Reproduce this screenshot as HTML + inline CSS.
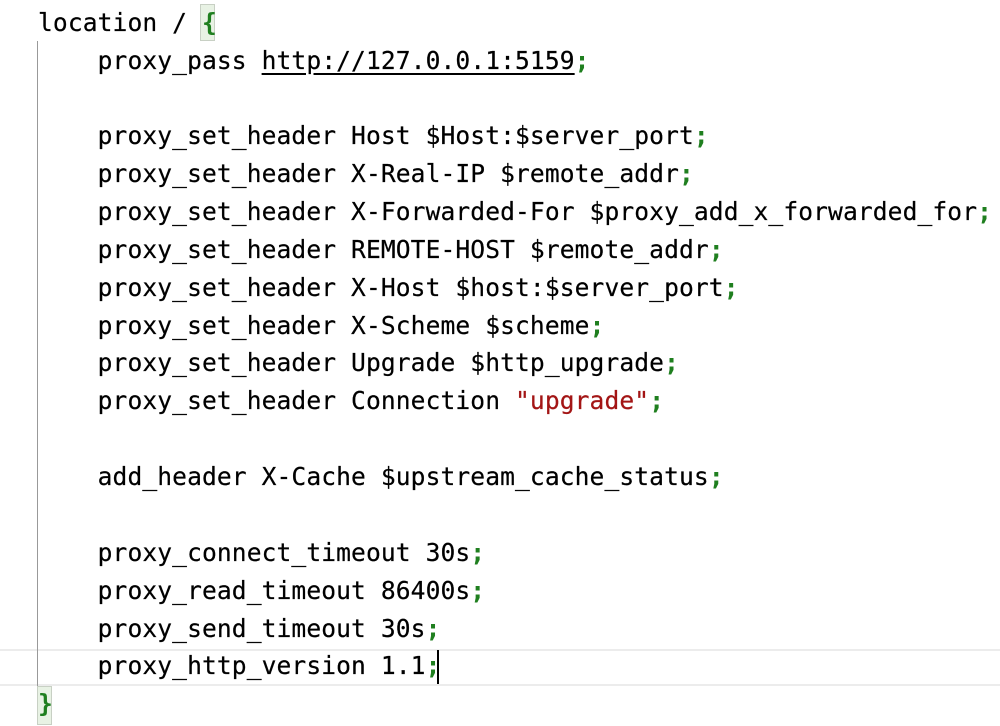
<!DOCTYPE html>
<html><head><style>
body{margin:0;width:1000px;height:726px;background:#fff;position:relative;overflow:hidden;font-family:"DejaVu Sans Mono","Liberation Mono",monospace;}
.l{position:absolute;left:0;white-space:pre;font-size:24.6px;line-height:38px;color:#000;letter-spacing:0.1px;-webkit-text-stroke:0.2px #000}
.g{color:#1f7f1f;font-weight:bold;-webkit-text-stroke:0}.r{color:#a31515;-webkit-text-stroke:0.2px #a31515}.u{text-decoration:underline;text-underline-offset:4px}
.bx{position:absolute;background:#e8f2e4;border:1px solid #c8d0c4}
</style></head><body>
<div style="position:absolute;left:0;top:649px;width:1000px;height:37px;border-top:2px solid #ececec;border-bottom:2px solid #ececec;box-sizing:border-box"></div>
<div style="position:absolute;left:37px;top:41px;width:1px;height:647px;background:#999"></div>
<div class="bx" style="left:200px;top:4px;width:13px;height:35px"></div>
<div class="bx" style="left:37px;top:686px;width:13px;height:37px"></div>
<div style="position:absolute;left:437px;top:650px;width:2px;height:34px;background:#000"></div>
<div style="position:absolute;left:38px;top:4px">
<div class="l" style="top:0"><span style="letter-spacing:0.1px">location / </span><span class="g">{</span></div>
<div class="l" style="top:38px">    proxy_pass <span class="u">http://127.0.0.1:5159</span><span class="g">;</span></div>
<div class="l" style="top:113px">    proxy_set_header Host $Host:$server_port<span class="g">;</span></div>
<div class="l" style="top:151px">    proxy_set_header X-Real-IP $remote_addr<span class="g">;</span></div>
<div class="l" style="top:189px">    proxy_set_header X-Forwarded-For $proxy_add_x_forwarded_for<span class="g">;</span></div>
<div class="l" style="top:227px">    proxy_set_header REMOTE-HOST $remote_addr<span class="g">;</span></div>
<div class="l" style="top:265px">    proxy_set_header X-Host $host:$server_port<span class="g">;</span></div>
<div class="l" style="top:303px">    proxy_set_header X-Scheme $scheme<span class="g">;</span></div>
<div class="l" style="top:340px">    proxy_set_header Upgrade $http_upgrade<span class="g">;</span></div>
<div class="l" style="top:378px">    proxy_set_header Connection <span class="r">"upgrade"</span><span class="g">;</span></div>
<div class="l" style="top:454px">    add_header X-Cache $upstream_cache_status<span class="g">;</span></div>
<div class="l" style="top:530px">    proxy_connect_timeout 30s<span class="g">;</span></div>
<div class="l" style="top:568px">    proxy_read_timeout 86400s<span class="g">;</span></div>
<div class="l" style="top:606px">    proxy_send_timeout 30s<span class="g">;</span></div>
<div class="l" style="top:643px">    proxy_http_version 1.1<span class="g">;</span></div>
<div class="l" style="top:681px"><span class="g">}</span></div>
</div>
</body></html>
